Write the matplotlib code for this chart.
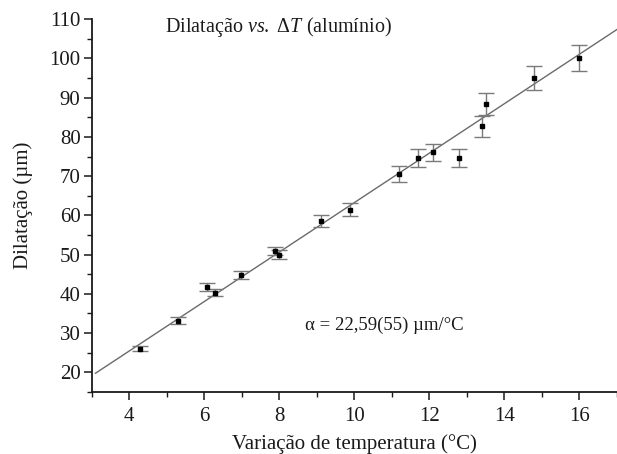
import matplotlib
matplotlib.use('Agg')
import matplotlib.pyplot as plt
import numpy as np

plt.rcParams['font.family'] = ['Liberation Serif', 'DejaVu Serif']
plt.rcParams['mathtext.fontset'] = 'custom'
plt.rcParams['mathtext.rm'] = 'Liberation Serif'
plt.rcParams['mathtext.it'] = 'Liberation Serif:italic'

# dados
delta_t = [4.28, 5.30, 6.08, 6.28, 6.99, 7.89, 8.00, 9.10, 9.88,
           11.19, 11.70, 12.10, 12.79, 13.40, 13.50, 14.80, 16.00]
dilat = [26.0, 33.1, 41.8, 40.2, 44.8, 50.9, 50.0, 58.5, 61.4,
         70.5, 74.6, 76.1, 74.6, 82.7, 88.4, 95.0, 100.1]
erro = [0.6, 0.85, 1.0, 0.9, 1.1, 1.1, 1.1, 1.5, 1.7,
        2.0, 2.2, 2.2, 2.2, 2.6, 2.9, 3.1, 3.4]

# reta ajustada
fit_slope = 6.31
fit_intercept = 0.14
fit_x = [3.1, 17.2]

fig = plt.figure(figsize=(6.17, 4.54), dpi=100)
ax = fig.add_axes([0.1486, 0.1372, 0.8514, 0.8203])

fx = np.array(fit_x)
ax.plot(fx, fit_slope * fx + fit_intercept, color='#6a6a6a', lw=1.0, zorder=1)
ax.errorbar(delta_t, dilat, yerr=erro, fmt='s', color='black', ms=3.5,
            ecolor='#7a7a7a', elinewidth=1.0, capsize=6, capthick=1.0, zorder=2)

ax.set_xlim(3, 17)
ax.set_ylim(15, 110)
ax.set_xticks(range(4, 17, 2))
ax.set_xticks(range(3, 18, 2), minor=True)
ax.set_yticks(range(20, 111, 10))
ax.set_yticks(range(15, 111, 10), minor=True)

ax.spines['top'].set_visible(False)
ax.spines['right'].set_visible(False)
for s in ['left', 'bottom']:
    ax.spines[s].set_linewidth(1.3)
    ax.spines[s].set_color('#1a1a1a')
ax.tick_params(which='major', direction='out', length=6, width=1.1, labelsize=15, pad=2, colors='#1a1a1a')
ax.tick_params(which='minor', direction='out', length=3.5, width=1.0, colors='#1a1a1a')
ax.tick_params(axis='x', which='major', pad=5)

ax.set_xlabel('Variação de temperatura (°C)', fontsize=15, color='#1a1a1a', labelpad=5.5)
ax.set_ylabel('Dilatação (µm)', fontsize=15, color='#1a1a1a', labelpad=12)

ax.text(4.96, 108.0, r'Dilatação $\it{vs.}$ $\Delta \it{T}$ (alumínio)', fontsize=14.5,
        ha='left', va='center', color='#1a1a1a')
ax.text(8.68, 31.9, 'α = 22,59(55) µm/°C', fontsize=13.5, ha='left', va='center', color='#1a1a1a')

fig.savefig('out.png', dpi=100)
